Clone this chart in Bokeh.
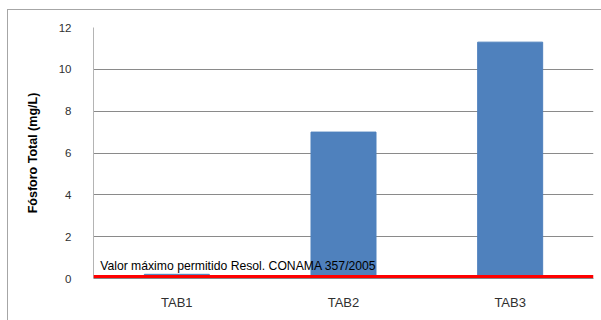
from bokeh.plotting import figure
from bokeh.models import ColumnDataSource, FixedTicker, Range1d, Span, Label
from bokeh.embed import file_html
from bokeh.resources import INLINE

# Total phosphorus per sampling point (mg/L)
categories = ["TAB1", "TAB2", "TAB3"]
fosforo_total = [0.2, 7.0, 11.3]
# CONAMA 357/2005 maximum allowed value (mg/L)
limite_conama = 0.1
limite_label = "Valor máximo permitido Resol. CONAMA 357/2005"
y_ticks = [0, 2, 4, 6, 8, 10, 12]

x_pos = [i + 0.5 for i in range(len(categories))]
source = ColumnDataSource(data=dict(x=x_pos, top=fosforo_total, cat=categories))

p = figure(
    width=594, height=311,
    x_range=Range1d(0, len(categories)), y_range=Range1d(0, 12),
    output_backend="svg", toolbar_location=None,
    min_border_left=85, min_border_right=9, min_border_top=17, min_border_bottom=43,
    margin=(9, 0, 0, 7),
)
p.styles = {"border-left": "1px solid #a6a6a6", "border-top": "1px solid #a6a6a6"}
p.outline_line_color = None
p.background_fill_color = "white"
p.border_fill_color = "white"

p.vbar(x="x", top="top", width=0.39, bottom=0, source=source,
       fill_color="#4f81bd", line_color="#4f81bd")

# limit line
p.add_layout(Span(location=limite_conama, dimension="width",
                  line_color="#ff0000", line_width=3))
p.add_layout(Label(x=0.04, y=limite_conama, y_offset=3, text=limite_label,
                   text_font="Liberation Sans", text_font_size="12.2px",
                   text_color="black", text_baseline="bottom"))

# axes
p.yaxis.ticker = FixedTicker(ticks=y_ticks)
p.yaxis.major_tick_line_color = None
p.yaxis.minor_tick_line_color = None
p.yaxis.axis_line_color = "#b4b4b4"
p.yaxis.major_label_standoff = 16
p.yaxis.major_label_text_font = "Liberation Sans"
p.yaxis.major_label_text_font_size = "11.5px"
p.yaxis.major_label_text_color = "#303030"
p.yaxis.axis_label = "Fósforo Total (mg/L)"
p.yaxis.axis_label_text_font = "Liberation Sans"
p.yaxis.axis_label_text_font_style = "bold"
p.yaxis.axis_label_text_font_size = "12.5px"
p.yaxis.axis_label_text_color = "black"
p.yaxis.axis_label_standoff = 16

p.xaxis.ticker = FixedTicker(ticks=x_pos)
p.xaxis.major_label_overrides = {x: c for x, c in zip(x_pos, categories)}
p.xaxis.major_tick_line_color = None
p.xaxis.minor_tick_line_color = None
p.xaxis.axis_line_color = "#888888"
p.xaxis.major_label_standoff = 10
p.xaxis.major_label_text_font = "Liberation Sans"
p.xaxis.major_label_text_font_size = "13px"
p.xaxis.major_label_text_color = "#303030"

p.xgrid.grid_line_color = None
p.ygrid.ticker = FixedTicker(ticks=[2, 4, 6, 8, 10])
p.ygrid.grid_line_color = "#8a8a8a"
p.ygrid.grid_line_width = 1

open("out.html", "w").write(file_html(p, INLINE))
